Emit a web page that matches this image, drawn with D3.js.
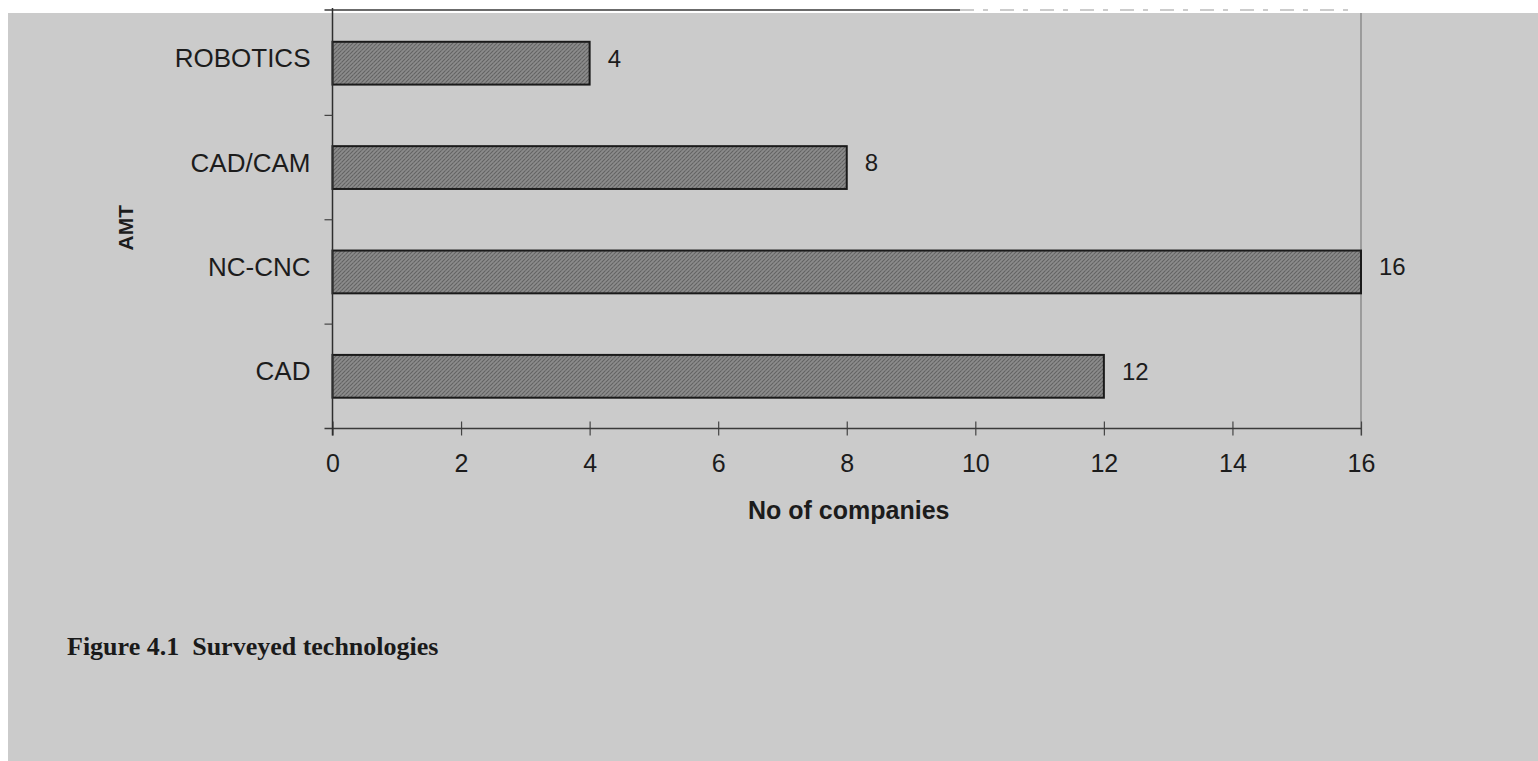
<!DOCTYPE html>
<html>
<head>
<meta charset="utf-8">
<script src="https://cdn.jsdelivr.net/npm/d3@7"></script>
<style>
  html, body { margin: 0; padding: 0; background: #ffffff; }
  svg { display: block; }
</style>
</head>
<body>
<svg id="chart" width="1538" height="761"></svg>
<script>
// Chart data
const categories = ["ROBOTICS", "CAD/CAM", "NC-CNC", "CAD"];
const companies = [4, 8, 16, 12];
const xTicks = [0, 2, 4, 6, 8, 10, 12, 14, 16];
const xTitle = "No of companies";
const yTitle = "AMT";
const caption = "Figure 4.1  Surveyed technologies";

const W = 1538, H = 761;
const svg = d3.select("#chart");
const defs = svg.append("defs");

// Stippled dark fill for the bars
const pat = defs.append("pattern")
  .attr("id", "stipple")
  .attr("patternUnits", "userSpaceOnUse")
  .attr("width", 4).attr("height", 4);
pat.append("rect").attr("width", 4).attr("height", 4).attr("fill", "#8c8c8c");
pat.append("path").attr("d", "M-1,1 l2,-2 M0,4 l4,-4 M3,5 l2,-2")
  .attr("stroke", "#626262").attr("stroke-width", 1.1);
pat.append("rect").attr("x", 1).attr("y", 2).attr("width", 1).attr("height", 1).attr("fill", "#707070");

// Page background (scanned paper) with white margin at top and left
svg.append("rect").attr("x", 0).attr("y", 0).attr("width", W).attr("height", H).attr("fill", "#ffffff");
svg.append("rect").attr("x", 8).attr("y", 13).attr("width", W - 8).attr("height", H - 13).attr("fill", "#cbcbcb");

// Scales
const plot = { left: 332.5, right: 1361, top: 11, bottom: 428.5 };
const x = d3.scaleLinear().domain([0, 16]).range([plot.left, plot.right]);
const y = d3.scaleBand().domain(categories).range([plot.top, plot.bottom])
  .paddingInner(0.59).paddingOuter(0.295);

const ink = "#1c1c1c";
const sans = "'Liberation Sans', Arial, sans-serif";

// Top frame edge, partially lost at the page edge
svg.append("line")
  .attr("x1", plot.left - 8).attr("x2", 960).attr("y1", 10).attr("y2", 10)
  .attr("stroke", "#3a3a3a").attr("stroke-width", 1.5);
svg.append("line")
  .attr("x1", 960).attr("x2", 1350).attr("y1", 10).attr("y2", 10)
  .attr("stroke", "#9a9a9a").attr("stroke-width", 1.2)
  .attr("stroke-dasharray", "14 9 5 12");

// Right frame edge
svg.append("line")
  .attr("x1", plot.right).attr("x2", plot.right)
  .attr("y1", 13).attr("y2", plot.bottom + 7)
  .attr("stroke", "#7c7c7c").attr("stroke-width", 1.2);

// Bars
svg.append("g").selectAll("rect")
  .data(categories)
  .join("rect")
  .attr("x", x(0))
  .attr("y", d => y(d))
  .attr("width", (d, i) => x(companies[i]) - x(0))
  .attr("height", y.bandwidth())
  .attr("fill", "url(#stipple)")
  .attr("stroke", "#1a1a1a")
  .attr("stroke-width", 2);

// Value labels
svg.append("g").selectAll("text")
  .data(categories)
  .join("text")
  .attr("x", (d, i) => x(companies[i]) + 18)
  .attr("y", d => y(d) + y.bandwidth() / 2 - 5)
  .attr("dy", "0.35em")
  .attr("font-family", sans)
  .attr("font-size", 24)
  .attr("fill", ink)
  .text((d, i) => companies[i]);

// X axis
const xAxis = svg.append("g")
  .attr("transform", `translate(0,${plot.bottom})`)
  .call(d3.axisBottom(x).tickValues(xTicks).tickSize(7).tickPadding(19).tickFormat(d3.format("d")));
xAxis.select(".domain").remove();
xAxis.selectAll(".tick line").attr("y1", -7).attr("y2", 7).attr("stroke", "#444").attr("stroke-width", 1.2);
xAxis.selectAll(".tick text").attr("font-family", sans).attr("font-size", 25).attr("fill", ink);
svg.append("line")
  .attr("x1", plot.left - 8).attr("x2", plot.right)
  .attr("y1", plot.bottom).attr("y2", plot.bottom)
  .attr("stroke", "#3a3a3a").attr("stroke-width", 1.5);

// Y axis line, tick marks between categories and category labels
svg.append("line")
  .attr("x1", plot.left).attr("x2", plot.left)
  .attr("y1", 8).attr("y2", plot.bottom + 7)
  .attr("stroke", "#2e2e2e").attr("stroke-width", 1.5);

const boundaries = categories.slice(1).map(c => y(c) - (y.step() - y.bandwidth()) / 2);
svg.append("g").selectAll("line")
  .data(boundaries)
  .join("line")
  .attr("x1", plot.left - 8).attr("x2", plot.left)
  .attr("y1", d => d).attr("y2", d => d)
  .attr("stroke", "#444").attr("stroke-width", 1.2);

svg.append("g").selectAll("text")
  .data(categories)
  .join("text")
  .attr("x", plot.left - 22)
  .attr("y", d => y(d) + y.bandwidth() / 2 - 5)
  .attr("dy", "0.35em")
  .attr("text-anchor", "end")
  .attr("font-family", sans)
  .attr("font-size", 26)
  .attr("fill", ink)
  .text(d => d);

// Axis titles
svg.append("text")
  .attr("x", (plot.left + plot.right) / 2 + 2)
  .attr("y", 519)
  .attr("text-anchor", "middle")
  .attr("font-family", sans)
  .attr("font-weight", "bold")
  .attr("font-size", 25)
  .attr("fill", ink)
  .text(xTitle);

svg.append("text")
  .attr("transform", `translate(133,${(plot.top + plot.bottom) / 2 + 8}) rotate(-90)`)
  .attr("text-anchor", "middle")
  .attr("font-family", sans)
  .attr("font-weight", "bold")
  .attr("font-size", 21)
  .attr("fill", ink)
  .text(yTitle);

// Figure caption
svg.append("text")
  .attr("x", 67)
  .attr("y", 655)
  .attr("font-family", "'Liberation Serif', 'Times New Roman', serif")
  .attr("font-weight", "bold")
  .attr("font-size", 26)
  .attr("fill", "#1a1a1a")
  .attr("xml:space", "preserve")
  .style("white-space", "pre")
  .text(caption);
</script>
</body>
</html>
